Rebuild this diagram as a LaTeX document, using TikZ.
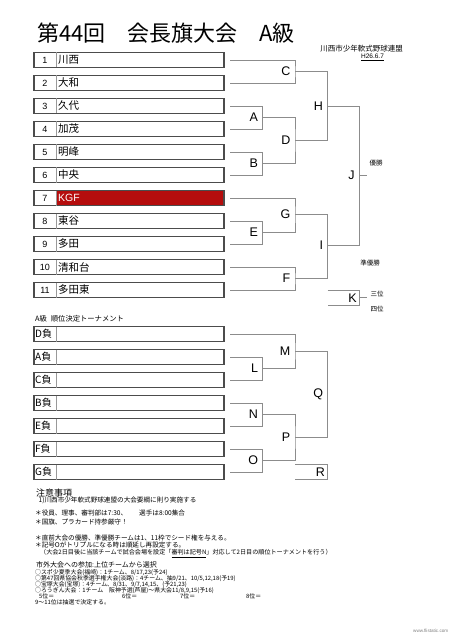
\documentclass[tikz,border=0pt]{standalone}
\usepackage{fontspec}
\setmainfont{Noto Sans CJK JP}
\newfontfamily\latf{Liberation Sans}
\newcommand\myfs[1]{\fontsize{#1bp}{#1bp}\selectfont}
\definecolor{kgfred}{HTML}{B50D0D}
\begin{document}
\begin{tikzpicture}[x=1bp,y=-1bp,
  wire/.style={draw=black!45, line width=0.7bp},
  teambox/.style={draw=black!70, line width=1.1bp, minimum width=190bp, minimum height=15bp, inner sep=0, outer sep=0, anchor=west},
  cellsep/.style={draw=black!40, line width=0.6bp},
  numtxt/.style={font=\latf\myfs{9}, inner sep=0},
  nametxt/.style={font=\myfs{10.5}, inner sep=0, anchor=west},
  letter/.style={font=\latf\myfs{12.5}, inner sep=0, anchor=east},
  small/.style={font=\myfs{6.5}, inner sep=0},
  note/.style={inner sep=0, anchor=west}]
\useasboundingbox[fill=white] (0,0) rectangle (452,640);

% title
\node[note, font=\myfs{22}] (title) at (37,33) {第44回　会長旗大会　A級};
\node[inner sep=0, font=\myfs{7.5}] (org) at (361.5,48.3) {川西市少年軟式野球連盟};
\node[inner sep=0, font=\latf\myfs{6.5}] (date) at (372.5,57.3) {\underline{H26.6.7}};

% KGF fill
\fill[kgfred] (56,190.5) rectangle (224,205.5);

% teams
\foreach \n/\tn/\tc [evaluate=\n as \yy using {60+23*(\n-1)}] in
 {1/川西/black,2/大和/black,3/久代/black,4/加茂/black,5/明峰/black,6/中央/black,
  7/{\latf KGF}/white,8/東谷/black,9/多田/black,10/清和台/black,11/多田東/black}{
  \node[teambox] (t\n) at (34,\yy) {};
  \draw[cellsep] ([xshift=22bp]t\n.north west) -- ([xshift=22bp]t\n.south west);
  \node[numtxt] (n\n) at (45,\yy) {\n};
  \node[nametxt, text=\tc] (m\n) at (58,\yy) {\tn};
}

% main bracket coordinates
\coordinate (C) at (295,71.5);
\coordinate (A) at (262.7,117.5);
\coordinate (B) at (262.7,163.5);
\coordinate (D) at (295,140.5);
\coordinate (H) at (327.7,106);
\coordinate (E) at (262.7,232.5);
\coordinate (G) at (295,214);
\coordinate (F) at (295,278.5);
\coordinate (I) at (327.7,245);
\coordinate (J) at (359.3,175.5);
\coordinate (Jt) at (366.7,175.5);
\coordinate (Ka) at (327.7,290);
\coordinate (Kb) at (327.7,305.3);
\coordinate (K) at (359.3,297.7);
\coordinate (Kt) at (366.7,297.7);

\draw[wire] ([xshift=6bp]t1.east) -| (C) |- ([xshift=6bp]t2.east);
\draw[wire] ([xshift=6bp]t3.east) -| (A) |- ([xshift=6bp]t4.east);
\draw[wire] ([xshift=6bp]t5.east) -| (B) |- ([xshift=6bp]t6.east);
\draw[wire] (A) -| (D) |- (B);
\draw[wire] (C) -| (H) |- (D);
\draw[wire] ([xshift=6bp]t8.east) -| (E) |- ([xshift=6bp]t9.east);
\draw[wire] ([xshift=6bp]t7.east) -| (G) |- (E);
\draw[wire] ([xshift=6bp]t10.east) -| (F) |- ([xshift=6bp]t11.east);
\draw[wire] (G) -| (I) |- (F);
\draw[wire] (H) -| (J) |- (I);
\draw[wire] (J) -- (Jt);
\draw[wire] (Ka) -| (K) |- (Kb);
\draw[wire] (K) -- (Kt);

\foreach \p in {A,B,C,D,E,F,G,H,I,J}{
  \node[letter] (l\p) at ([xshift=-4.5bp]\p) {\p};
}
\node[letter] (lK) at ([xshift=-2.5bp]K) {K};

\node[small] (win) at (376,163) {優勝};
\node[small] (runner) at (370,263.5) {準優勝};
\node[small] (third) at (377,294.3) {三位};
\node[small] (fourth) at (377,309.3) {四位};

% placement tournament
\node[note, font=\myfs{7.3}] (sub) at (35,318.3) {A級\hspace{4bp}順位決定トーナメント};
\foreach \n/\tn [evaluate=\n as \yy using {334+23*(\n-1)}] in
 {1/D負,2/A負,3/C負,4/B負,5/E負,6/F負,7/G負}{
  \node[teambox] (s\n) at (34,\yy) {};
  \draw[cellsep] ([xshift=22bp]s\n.north west) -- ([xshift=22bp]s\n.south west);
  \node[nametxt, font=\myfs{10}] (p\n) at (35,\yy) {\tn};
}
\coordinate (M) at (295,351);
\coordinate (L) at (262.7,368.5);
\coordinate (N) at (262.7,414.5);
\coordinate (O) at (262.7,460.5);
\coordinate (P) at (295,437.5);
\coordinate (Q) at (327.7,394);
\coordinate (Ra) at (295,464.3);
\coordinate (Rb) at (295,479.3);
\coordinate (R) at (327.7,471.8);

\draw[wire] ([xshift=6bp]s1.east) -| (M) |- (L);
\draw[wire] ([xshift=6bp]s2.east) -| (L) |- ([xshift=6bp]s3.east);
\draw[wire] ([xshift=6bp]s4.east) -| (N) |- ([xshift=6bp]s5.east);
\draw[wire] ([xshift=6bp]s6.east) -| (O) |- ([xshift=6bp]s7.east);
\draw[wire] (N) -| (P) |- (O);
\draw[wire] (M) -| (Q) |- (P);
\draw[wire] (Ra) -| (R) |- (Rb);
\foreach \p in {L,M,N,O,P,Q}{
  \node[letter] (l\p) at ([xshift=-4.5bp]\p) {\p};
}
\node[letter] (lR) at ([xshift=-2.5bp]R) {R};

% notes
\node[note, font=\myfs{9}] (nt0) at (36,493.3) {注意事項};
\node[note, font=\myfs{6.6}] (nt1) at (38.5,500.7) {1)川西市少年軟式野球連盟の大会要綱に則り実施する};
\node[note, font=\myfs{6.6}] (nt2) at (35,513.3) {＊役員、理事、審判部は7:30、\hspace{12bp}選手は8:00集合};
\node[note, font=\myfs{6.6}] (nt3) at (35,522) {＊国旗、プラカード持参厳守！};
\node[note, font=\myfs{6.6}] (nt4) at (35,538.3) {＊直前大会の優勝、準優勝チームは1、11枠でシード権を与える。};
\node[note, font=\myfs{6.6}] (nt5) at (35,545) {＊記号Oがトリプルになる時は順延し再設定する。};
\node[note, font=\myfs{6.1}] (nt6) at (40,553.5) {（大会2日目後に当該チームで試合会場を設定「\underline{審判は記号N}」対応して2日目の順位トーナメントを行う）};
\node[note, font=\myfs{7}] (nt7) at (36,565) {市外大会への参加:上位チームから選択};
\node[note, font=\myfs{5.9}] (nt8) at (35,572.5) {○スポ少夏季大会(福崎)：1チーム、8/17,23(予24)};
\node[note, font=\myfs{5.9}] (nt9) at (35,578.8) {○第47回県協会秋季選手権大会(淡路)：4チーム、抽9/21、10/5,12,18(予19)};
\node[note, font=\myfs{5.9}] (nt10) at (35,584.8) {○宝塚大会(宝塚)：4チーム、8/31、9/7,14,15、(予21,23)};
\node[note, font=\myfs{5.9}] (nt11) at (35,590.8) {○ろうぎん大会：1チーム　阪神予選(芦屋)～県大会11/8,9,15(予16)};
\node[note, font=\myfs{5.9}] (r5) at (39,596.7) {5位＝};
\node[note, font=\myfs{5.9}] (r6) at (122,596.7) {6位＝};
\node[note, font=\myfs{5.9}] (r7) at (180,596.7) {7位＝};
\node[note, font=\myfs{5.9}] (r8) at (246,596.7) {8位＝};
\node[note, font=\myfs{5.9}] (nt12) at (35,602.7) {9～11位は抽選で決定する。};
\node[note, font=\latf\myfs{4.6}, text=black!50] (wm) at (413,631) {www.flistatic.com};
\end{tikzpicture}
\end{document}
